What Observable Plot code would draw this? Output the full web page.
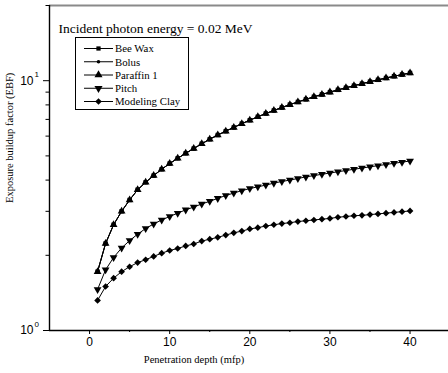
<!DOCTYPE html>
<html><head><meta charset="utf-8">
<script src="https://cdn.jsdelivr.net/npm/d3@7"></script>
<script src="https://cdn.jsdelivr.net/npm/@observablehq/plot@0.6"></script>
<style>body{margin:0;background:#fff;overflow:hidden}</style>
</head><body><div id="chart"></div>
<script>
const depth = [1,2,3,4,5,6,7,8,9,10,11,12,13,14,15,16,17,18,19,20,21,22,23,24,25,26,27,28,29,30,31,32,33,34,35,36,37,38,39,40];
const beeWax = [1.72,2.23,2.65,3.00,3.33,3.66,3.92,4.17,4.42,4.66,4.89,5.12,5.35,5.59,5.83,6.06,6.28,6.50,6.73,6.95,7.17,7.39,7.60,7.81,8.02,8.22,8.42,8.62,8.81,9.00,9.19,9.37,9.55,9.73,9.91,10.08,10.25,10.42,10.58,10.74];
const bolus = [1.72,2.23,2.65,3.00,3.33,3.66,3.92,4.17,4.42,4.66,4.89,5.12,5.35,5.59,5.83,6.06,6.28,6.50,6.73,6.95,7.17,7.39,7.60,7.81,8.02,8.22,8.42,8.62,8.81,9.00,9.19,9.37,9.55,9.73,9.91,10.08,10.25,10.42,10.58,10.74];
const paraffin1 = [1.72,2.23,2.65,3.00,3.33,3.66,3.92,4.17,4.42,4.66,4.89,5.12,5.35,5.59,5.83,6.06,6.28,6.50,6.73,6.95,7.17,7.39,7.60,7.81,8.02,8.22,8.42,8.62,8.81,9.00,9.19,9.37,9.55,9.73,9.91,10.08,10.25,10.42,10.58,10.74];
const pitch = [1.46,1.75,1.96,2.14,2.29,2.43,2.56,2.67,2.77,2.86,2.95,3.04,3.12,3.21,3.29,3.38,3.47,3.55,3.63,3.70,3.76,3.82,3.89,3.95,4.00,4.06,4.12,4.17,4.22,4.27,4.32,4.37,4.42,4.47,4.52,4.57,4.62,4.67,4.72,4.77];
const modelingClay = [1.32,1.50,1.62,1.72,1.80,1.87,1.92,1.98,2.04,2.09,2.13,2.18,2.22,2.28,2.32,2.36,2.41,2.46,2.50,2.55,2.58,2.62,2.65,2.68,2.70,2.73,2.75,2.77,2.79,2.81,2.84,2.86,2.88,2.89,2.91,2.93,2.95,2.97,2.99,3.01];

const seriesNames = ["Bee Wax","Bolus","Paraffin 1","Pitch","Modeling Clay"];
const seriesValues = [beeWax, bolus, paraffin1, pitch, modelingClay];

const xMajor = [0,10,20,30,40];
const xMinor = [5,15,25,35];
const yMajor = [1,10];
const yMinor = [2,3,4,5,6,7,8,9,20];
const title = "Incident photon energy = 0.02 MeV";
const xLabel = "Penetration depth (mfp)";
const yLabel = "Exposure buildup factor (EBF)";

const triangleDown = {
  draw(context, size) {
    const y = -Math.sqrt(size / (Math.sqrt(3) * 3));
    context.moveTo(0, -y * 2);
    context.lineTo(-Math.sqrt(3) * y, y);
    context.lineTo(Math.sqrt(3) * y, y);
    context.closePath();
  }
};
const symbols = ["square", "circle", "triangle", triangleDown, "diamond2"];
const radii = [2.5, 2.0, 2.9, 2.9, 3.0];

const serif = "Liberation Serif, Times New Roman, serif";
const sans = "Liberation Sans, Arial, sans-serif";

const marks = [
  Plot.ruleY([20], {stroke: "#8a8a8a", strokeWidth: 2}),
  Plot.axisX(xMajor, {tickSize: 4, tickPadding: 3, label: null, fontSize: 12}),
  Plot.axisX(xMinor, {tickSize: 2, tickFormat: () => "", label: null}),
  Plot.axisY(yMajor, {tickSize: 6, tickPadding: 10, tickFormat: () => "10", label: null, fontSize: 12}),
  Plot.axisY(yMinor, {tickSize: 3.5, tickFormat: () => "", label: null}),
  Plot.text(yMajor, {x: -5, y: d => d, text: d => String(Math.round(Math.log10(d))), dx: -15, dy: -6, textAnchor: "start", fontSize: 8, fontFamily: sans}),
  Plot.ruleX([-5], {stroke: "black", strokeWidth: 1.4}),
  Plot.ruleY([1], {stroke: "black", strokeWidth: 1.4}),
  Plot.text([title], {frameAnchor: "top-left", dx: 9, dy: 18, textAnchor: "start", fontSize: 13.5, fontFamily: serif}),
  Plot.text([xLabel], {frameAnchor: "bottom", dx: -55, dy: 32, fontSize: 10.5, fontFamily: serif}),
  Plot.text([yLabel], {frameAnchor: "left", dx: -40, dy: 35, rotate: -90, fontSize: 10.5, fontFamily: serif})
];
seriesValues.forEach((vals, i) => {
  const rows = depth.map((d, j) => ({x: d, y: vals[j]}));
  marks.push(Plot.line(rows, {x: "x", y: "y", stroke: "black", strokeWidth: 1}));
  marks.push(Plot.dot(rows, {x: "x", y: "y", symbol: () => symbols[i], r: radii[i], fill: "black", stroke: "none"}));
});

const svg = Plot.plot({
  width: 448, height: 373,
  marginLeft: 49, marginRight: 0, marginTop: 5, marginBottom: 43,
  x: {domain: [-5, 44.8]},
  y: {type: "log", domain: [1, 20]},
  symbol: {type: "identity"},
  style: {fontFamily: sans, fontSize: "12px", background: "white", color: "black"},
  marks
});
document.getElementById("chart").append(svg);

// legend
const lg = d3.select(svg).append("g").attr("text-anchor", "start");
lg.append("rect").attr("x", 75.5).attr("y", 37.5).attr("width", 113).attr("height", 72)
  .attr("fill", "white").attr("stroke", "black").attr("stroke-width", 1);
const d3sym = [d3.symbolSquare, d3.symbolCircle, d3.symbolTriangle, triangleDown, d3.symbolDiamond2];
const legendR = [2.4, 1.8, 3.0, 3.0, 3.0];
seriesNames.forEach((name, i) => {
  const y = 48.5 + i * 13.25;
  lg.append("line").attr("x1", 84).attr("x2", 113).attr("y1", y).attr("y2", y).attr("stroke", "black").attr("stroke-width", 1);
  lg.append("path").attr("d", d3.symbol(d3sym[i], Math.PI * legendR[i] * legendR[i])()).attr("transform", `translate(98.5,${y})`).attr("fill", "black");
  lg.append("text").attr("x", 115).attr("y", y).attr("dy", "0.35em").attr("text-anchor", "start")
    .style("font-family", serif).style("font-size", "10.8px").attr("fill", "black").text(name);
});
</script>
</body></html>
